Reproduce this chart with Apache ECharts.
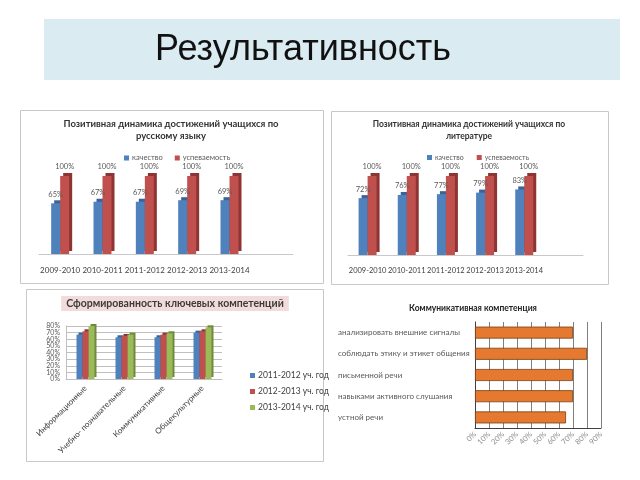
<!DOCTYPE html>
<html>
<head>
<meta charset="utf-8">
<script src="https://cdn.jsdelivr.net/npm/echarts@6/dist/echarts.min.js"></script>
<style>
  html, body { margin: 0; padding: 0; background: #ffffff; }
  #slide { width: 640px; height: 480px; }
</style>
</head>
<body>
<div id="slide"></div>
<script>
// data
const years = ["2009-2010", "2010-2011", "2011-2012", "2012-2013", "2013-2014"];
const ruQuality = [65, 67, 67, 69, 69];
const ruSuccess = [100, 100, 100, 100, 100];
const litQuality = [72, 76, 77, 79, 83];
const litSuccess = [100, 100, 100, 100, 100];

const competences = ["Информационные", "Учебно- познавательные", "Коммуникативные", "Общекультурные"];
const studyYears = ["2011-2012 уч. год", "2012-2013 уч. год", "2013-2014 уч. год"];
const comp2011 = [67, 63, 63, 70];
const comp2012 = [72, 65, 67, 72];
const comp2013 = [80, 67, 69, 78];

const skills = [
  "анализировать внешние сигналы",
  "соблюдать этику и этикет общения",
  "письменной речи",
  "навыками активного слушания",
  "устной речи"
];
const skillValues = [70, 80, 70, 70, 65];

const FONT = "Lato, 'Open Sans', sans-serif";
const BLUE = "#4f81bd", RED = "#c0504d", GREEN = "#9bbb59", ORANGE = "#e4792f";

const chart = echarts.init(document.getElementById("slide"));

// flat bar with an offset shadow to fake the 3D look of the office charts
function bar(name, data, gi, color, shade, width, off, labelSize) {
  return {
    name: name,
    type: "bar",
    xAxisIndex: gi,
    yAxisIndex: gi,
    data: data,
    barWidth: width,
    barGap: "0%",
    animation: false,
    itemStyle: {
      color: color,
      shadowColor: shade,
      shadowBlur: 0,
      shadowOffsetX: off,
      shadowOffsetY: -off
    },
    label: labelSize ? {
      show: true,
      position: "top",
      distance: 5,
      formatter: "{c}%",
      fontFamily: FONT,
      fontSize: labelSize,
      color: "#595959"
    } : { show: false }
  };
}

function yearAxis(gi, size) {
  return {
    type: "category",
    gridIndex: gi,
    data: years,
    max: years.length,
    axisLine: { lineStyle: { color: "#c8c8c8" } },
    axisTick: { show: false },
    axisLabel: {
      interval: 0,
      margin: 12,
      fontFamily: FONT,
      fontSize: size,
      color: "#404040"
    }
  };
}

function hiddenValueAxis(gi) {
  return {
    type: "value", gridIndex: gi, min: 0, max: 100,
    show: false, splitLine: { show: false }
  };
}

const boxStyle = { fill: null, stroke: "#c8c8c8", lineWidth: 1 };
const pctLabel = { margin: 6, fontSize: 7, color: "#595959", formatter: "{value}%" };

const options = {
  backgroundColor: "#ffffff",
  textStyle: { fontFamily: FONT },
  graphic: [
    { type: "rect", shape: { x: 44, y: 19, width: 576, height: 61 }, style: { fill: "#daebf2" } },
    { type: "text", style: { text: "Результативность", x: 303, y: 50, align: "center", verticalAlign: "middle",
        font: "36px 'Liberation Sans', Arial, sans-serif", fill: "#111111" } },
    { type: "rect", shape: { x: 20.5, y: 110.5, width: 303, height: 173 }, style: boxStyle },
    { type: "rect", shape: { x: 331.5, y: 111.5, width: 277, height: 173 }, style: boxStyle },
    { type: "rect", shape: { x: 26.5, y: 289.5, width: 297, height: 172 }, style: boxStyle },
    { type: "text", style: { text: "Позитивная динамика достижений учащихся по\nрусскому языку", x: 171, y: 118,
        align: "center", font: "bold 9.5px " + FONT, lineHeight: 12, fill: "#333333" } },
    { type: "text", style: { text: "Позитивная динамика достижений учащихся по\nлитературе", x: 469, y: 118,
        align: "center", font: "bold 8.5px " + FONT, lineHeight: 12, fill: "#333333" } },
    { type: "text", style: { text: "Сформированность ключевых компетенций", x: 175, y: 303.5,
        align: "center", verticalAlign: "middle", font: "bold 10.5px " + FONT, fill: "#3b3b3b",
        backgroundColor: "#f2dcdb", padding: [2, 5] } },
    { type: "text", style: { text: "Коммуникативная компетенция", x: 473, y: 308,
        align: "center", verticalAlign: "middle", font: "bold 8.5px " + FONT, fill: "#222222" } }
  ],
  legend: [
    {
      data: ["качество", "успеваемость"], left: 119, top: 149,
      itemWidth: 5, itemHeight: 5, itemGap: 12, icon: "rect",
      textStyle: { fontSize: 7.5, color: "#595959", padding: [0, 0, 0, -2] }
    },
    {
      data: ["качество", "успеваемость"], left: 422, top: 149,
      itemWidth: 5, itemHeight: 5, itemGap: 13, icon: "rect",
      textStyle: { fontSize: 7, color: "#595959", padding: [0, 0, 0, -2] }
    },
    {
      data: studyYears, orient: "vertical", left: 245, top: 366,
      itemWidth: 5, itemHeight: 5, itemGap: 7, icon: "rect",
      textStyle: { fontSize: 8.5, color: "#404040", padding: [0, 0, 0, -2] }
    }
  ],
  grid: [
    { left: 39, top: 176, width: 254, height: 78 },
    { left: 348, top: 176, width: 235, height: 79 },
    { left: 66, top: 326, width: 156, height: 53 },
    { left: 475, top: 322, width: 126, height: 106 }
  ],
  xAxis: [
    yearAxis(0, 8),
    yearAxis(1, 7.5),
    {
      type: "category", gridIndex: 2, data: competences,
      axisLine: { lineStyle: { color: "#bfbfbf" } },
      axisTick: { show: false },
      axisLabel: { interval: 0, rotate: 45, margin: 8, fontSize: 8, color: "#404040" }
    },
    {
      type: "value", gridIndex: 3, min: 0, max: 90, interval: 10,
      axisLine: { show: true, lineStyle: { color: "#404040" } },
      axisTick: { show: false },
      splitLine: { lineStyle: { color: "#7f7f7f" } },
      axisLabel: { rotate: 45, margin: 5, fontSize: 7.5, color: "#8c8c8c", formatter: "{value}%",
        showMinLabel: true, showMaxLabel: true }
    }
  ],
  yAxis: [
    hiddenValueAxis(0),
    hiddenValueAxis(1),
    {
      // inner ticks 10%..70%
      type: "value", gridIndex: 2, min: 0, max: 80, interval: 10, position: "left",
      axisLine: { show: true, lineStyle: { color: "#bfbfbf" } },
      splitLine: { lineStyle: { color: "#bfbfbf" } },
      axisLabel: Object.assign({ showMinLabel: false, showMaxLabel: false }, pctLabel)
    },
    {
      type: "category", gridIndex: 3, data: skills, inverse: true,
      axisLine: { lineStyle: { color: "#404040" } },
      axisTick: { show: false },
      axisLabel: { align: "left", margin: 137, fontSize: 8, color: "#595959" }
    },
    {
      // end ticks 0% and 80%, which the first axis drops when they crowd it
      type: "value", gridIndex: 2, min: 0, max: 80, interval: 80, position: "left", offset: 0,
      axisLine: { show: false }, axisTick: { show: false }, splitLine: { show: false },
      axisLabel: pctLabel
    }
  ],
  series: [
    bar("качество", ruQuality, 0, BLUE, "#3a6396", 9, 3, 7.5),
    bar("успеваемость", ruSuccess, 0, RED, "#8e3432", 9, 3, 7.5),
    bar("качество", litQuality, 1, BLUE, "#3a6396", 9, 3, 7.5),
    bar("успеваемость", litSuccess, 1, RED, "#8e3432", 9, 3, 7.5),
    bar(studyYears[0], comp2011, 2, BLUE, "#3a6396", 6, 2, 0),
    bar(studyYears[1], comp2012, 2, RED, "#8e3432", 6, 2, 0),
    bar(studyYears[2], comp2013, 2, GREEN, "#6f8a3c", 6, 2, 0),
    {
      name: "Коммуникативная компетенция",
      type: "bar",
      xAxisIndex: 3,
      yAxisIndex: 3,
      data: skillValues,
      barWidth: 12,
      animation: false,
      itemStyle: { color: ORANGE, borderColor: "#7a3f14", borderWidth: 0.8 }
    }
  ]
};

chart.setOption(options);
window.addEventListener("resize", () => chart.resize());
</script>
</body>
</html>
